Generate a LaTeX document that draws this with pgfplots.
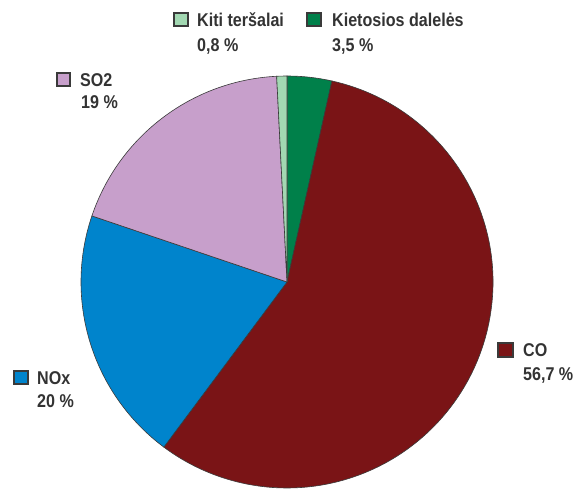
\documentclass[border=0pt]{standalone}
\usepackage{pgfplots}
\usepackage{pgfplotstable}
\pgfplotsset{compat=1.18}
\usepackage{fontspec}
\setmainfont{Liberation Sans}[FakeStretch=0.87]
\definecolor{kgreen}{HTML}{00804A}
\definecolor{lgreen}{HTML}{A2D8B2}
\definecolor{cored}{HTML}{7A1416}
\definecolor{noxblue}{HTML}{0084CC}
\definecolor{sopink}{HTML}{C79FCB}
\definecolor{txt}{HTML}{333333}
\definecolor{edge}{HTML}{3A3A3A}
% slices clockwise from 12 o'clock
\pgfplotstableread[col sep=comma]{
id,value
1,3.5
2,56.7
3,20
4,19
5,0.8
}\piedata
\begin{document}%
\begin{tikzpicture}
\pgfmathsetmacro\aA{90}
\pgfplotstablegetelem{0}{value}\of\piedata\pgfmathsetmacro\aB{\aA-3.6*\pgfplotsretval}
\pgfplotstablegetelem{1}{value}\of\piedata\pgfmathsetmacro\aC{\aB-3.6*\pgfplotsretval}
\pgfplotstablegetelem{2}{value}\of\piedata\pgfmathsetmacro\aD{\aC-3.6*\pgfplotsretval}
\pgfplotstablegetelem{3}{value}\of\piedata\pgfmathsetmacro\aE{\aD-3.6*\pgfplotsretval}
\pgfplotstablegetelem{4}{value}\of\piedata\pgfmathsetmacro\aF{\aE-3.6*\pgfplotsretval}
\begin{axis}[
  x=1pt, y=1pt, xmin=0, xmax=576, ymin=0, ymax=488,
  hide axis, clip=false, disabledatascaling,
]
\path (axis cs:0,0) rectangle (axis cs:576,488);
\def\cx{287}\def\cy{206}\def\R{206pt}
\filldraw[fill=kgreen, draw=edge, line width=0.6pt] (axis cs:\cx,\cy) -- ++(\aA:\R) arc[start angle=\aA, end angle=\aB, radius=\R] -- cycle;
\filldraw[fill=cored, draw=edge, line width=0.6pt] (axis cs:\cx,\cy) -- ++(\aB:\R) arc[start angle=\aB, end angle=\aC, radius=\R] -- cycle;
\filldraw[fill=noxblue, draw=edge, line width=0.6pt] (axis cs:\cx,\cy) -- ++(\aC:\R) arc[start angle=\aC, end angle=\aD, radius=\R] -- cycle;
\filldraw[fill=sopink, draw=edge, line width=0.6pt] (axis cs:\cx,\cy) -- ++(\aD:\R) arc[start angle=\aD, end angle=\aE, radius=\R] -- cycle;
\filldraw[fill=lgreen, draw=edge, line width=0.6pt] (axis cs:\cx,\cy) -- ++(\aE:\R) arc[start angle=\aE, end angle=\aF, radius=\R] -- cycle;
% labels
\tikzset{lab/.style={anchor=base west, inner sep=0pt, text=txt, font=\fontsize{18.5}{22}\selectfont\bfseries},
         sq/.style={draw=edge, line width=1.1pt}}
% Kiti tersalai
\filldraw[sq, fill=lgreen] (axis cs:174,462) rectangle (axis cs:188,475);
\node[lab] at (axis cs:197,461) {Kiti teršalai};
\node[lab] at (axis cs:197,436) {0,8 \%};
% Kietosios daleles
\filldraw[sq, fill=kgreen] (axis cs:307,462) rectangle (axis cs:321,475);
\node[lab] at (axis cs:332,461) {Kietosios dalelės};
\node[lab] at (axis cs:332,436) {3,5 \%};
% SO2
\filldraw[sq, fill=sopink] (axis cs:57,402) rectangle (axis cs:70,415);
\node[lab] at (axis cs:80,401) {SO2};
\node[lab] at (axis cs:81,379) {19 \%};
% CO
\filldraw[sq, fill=cored] (axis cs:498,131) rectangle (axis cs:513,145);
\node[lab] at (axis cs:523,131) {CO};
\node[lab] at (axis cs:523,107) {56,7 \%};
% NOx
\filldraw[sq, fill=noxblue] (axis cs:14,104) rectangle (axis cs:28,117);
\node[lab] at (axis cs:37,103) {NOx};
\node[lab] at (axis cs:37,80) {20 \%};
\end{axis}
\end{tikzpicture}%
\end{document}
